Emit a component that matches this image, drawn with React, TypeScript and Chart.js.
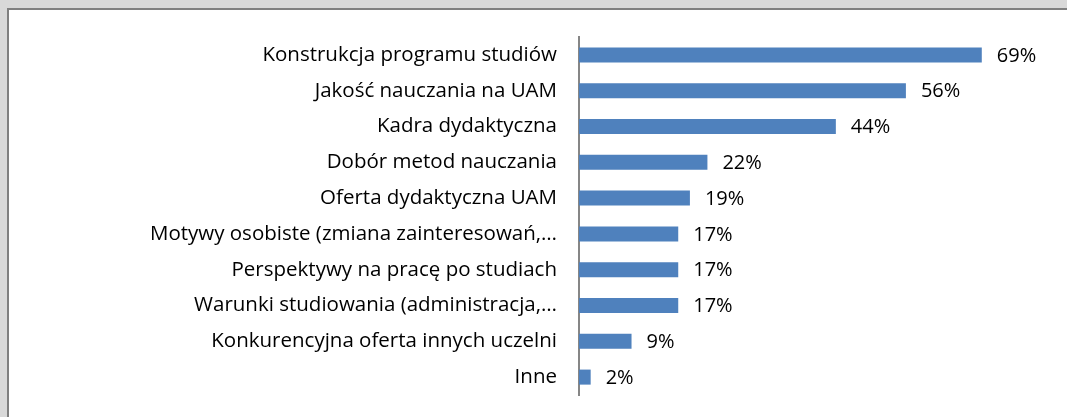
import React, { useEffect, useRef } from "react";
import { Chart, registerables } from "chart.js";

Chart.register(...registerables);

const categories = [
  "Konstrukcja programu studiów",
  "Jakość nauczania na UAM",
  "Kadra dydaktyczna",
  "Dobór metod nauczania",
  "Oferta dydaktyczna UAM",
  "Motywy osobiste (zmiana zainteresowań,…",
  "Perspektywy na pracę po studiach",
  "Warunki studiowania (administracja,…",
  "Konkurencyjna oferta innych uczelni",
  "Inne",
];
const values = [69, 56, 44, 22, 19, 17, 17, 17, 9, 2];
const axisMax = 80;

const FONT = "'Open Sans'";
const FONT_SIZE = 20.5;

const labelPlugin = {
  id: "barLabels",
  afterDatasetsDraw(chart: any) {
    const ctx = chart.ctx;
    const meta = chart.getDatasetMeta(0);
    ctx.save();
    ctx.font = `${FONT_SIZE - 0.5}px ${FONT}`;
    ctx.fillStyle = "#000";
    ctx.textAlign = "left";
    ctx.textBaseline = "middle";
    meta.data.forEach((el: any, i: number) => {
      ctx.fillText(values[i] + "%", el.x + 15, el.y + 1);
    });
    ctx.restore();
  },
};

export default function App() {
  const ref = useRef<HTMLCanvasElement>(null);
  useEffect(() => {
    const chart = new Chart(ref.current!, {
      type: "bar",
      data: {
        labels: categories,
        datasets: [
          {
            data: values,
            backgroundColor: "#4f81bd",
            borderWidth: 0,
            barPercentage: 0.42,
            categoryPercentage: 1,
          },
        ],
      },
      options: {
        indexAxis: "y",
        animation: false,
        responsive: false,
        maintainAspectRatio: false,
        layout: { padding: { left: 0, right: 21, top: 37, bottom: 22 } },
        plugins: { legend: { display: false }, tooltip: { enabled: false } },
        scales: {
          x: { display: false, min: 0, max: axisMax },
          y: {
            afterFit(scale: any) {
              scale.width = 579;
              scale.paddingTop = 0;
              scale.paddingBottom = 0;
            },
            grid: { display: false, drawTicks: false },
            border: { display: true, color: "#868686", width: 2 },
            ticks: {
              color: "#000",
              padding: 22,
              font: { family: FONT, size: FONT_SIZE },
              autoSkip: false,
            },
          },
        },
      },
      plugins: [labelPlugin],
    });
    return () => chart.destroy();
  }, []);
  return (
    <div style={{ position: "fixed", left: 0, top: 0, width: 1067, height: 417, background: "#d9d9d9", overflow: "hidden" }}>
      <div
        style={{
          position: "absolute",
          left: 7,
          top: 8,
          width: 1070,
          height: 420,
          background: "#fff",
          borderLeft: "2px solid #808080",
          borderTop: "2px solid #808080",
          boxSizing: "border-box",
        }}
      />
      <canvas ref={ref} width={1067} height={417} style={{ position: "absolute", left: 0, top: 0 }} />
    </div>
  );
}
